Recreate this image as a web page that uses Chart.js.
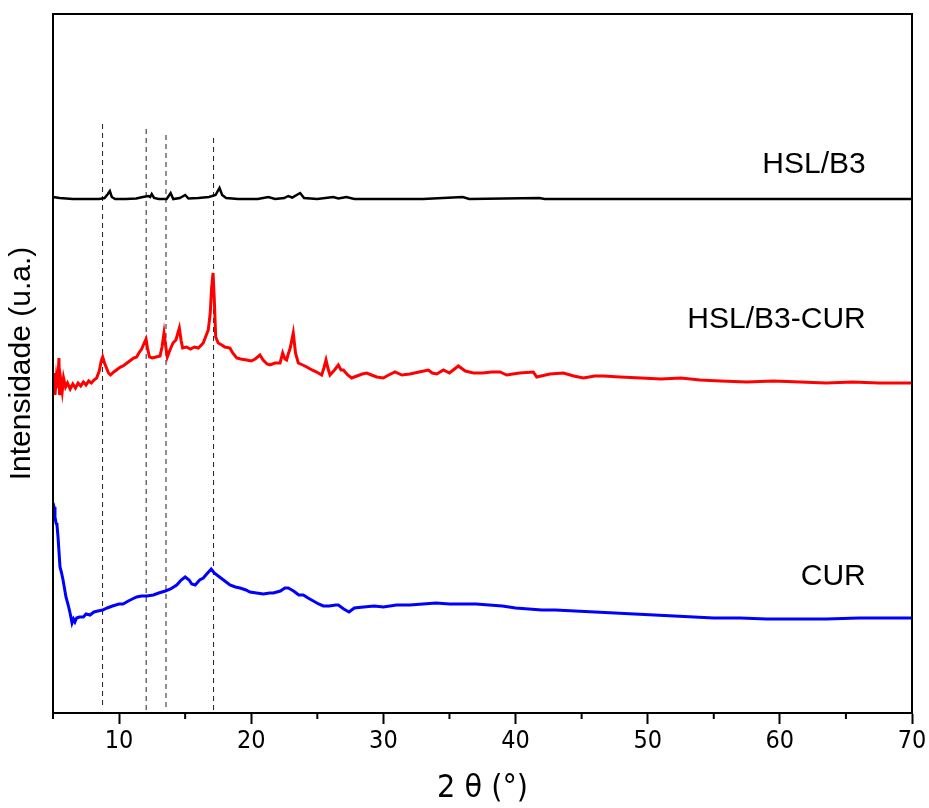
<!DOCTYPE html>
<html>
<head>
<meta charset="utf-8">
<script src="https://cdn.jsdelivr.net/npm/chart.js@4/dist/chart.umd.min.js"></script>
<style>
  body { margin: 0; background: #fff; }
  #wrap { width: 929px; height: 808px; }
</style>
</head>
<body>
<div id="wrap"><canvas id="xrdchart" width="929" height="808"></canvas></div>
<script>
// 2 theta (deg) vs intensity (a.u., curves already stacked with offsets)
const hslB3 = [
  [5.0, 516], [5.5, 515], [6.5, 514], [7.5, 514], [8.5, 514], [8.9, 515], [9.15, 519], [9.3, 522],
  [9.45, 516], [9.7, 514], [10.5, 514], [11.3, 514.5], [11.8, 516], [12.2, 517], [12.35, 516],
  [12.47, 519], [12.65, 515], [13.0, 514], [13.6, 514], [13.9, 520], [14.1, 514], [14.6, 515],
  [15.0, 518], [15.25, 514.5], [16.0, 515], [16.8, 516], [17.3, 518], [17.6, 525], [17.8, 518],
  [18.1, 515], [19.0, 514], [20.5, 514], [21.3, 516], [21.8, 514], [22.5, 515], [22.8, 517],
  [23.1, 515.5], [23.7, 520], [24.0, 515], [25.0, 514], [26.2, 516], [26.6, 514.5], [27.2, 516],
  [27.8, 514], [30.0, 514], [33.0, 514], [36.0, 516], [36.5, 514], [41.8, 515], [42.2, 514],
  [50.0, 514], [60.0, 514], [70.0, 514]
];
const hslB3Cur = [
  [5.0, 330], [5.05, 320], [5.1, 340], [5.15, 318], [5.25, 335], [5.35, 325], [5.45, 355], [5.5, 318],
  [5.6, 332], [5.7, 322], [5.8, 335], [5.95, 326], [6.1, 330], [6.3, 324], [6.5, 329], [6.7, 325],
  [6.9, 330], [7.1, 327], [7.3, 331], [7.5, 328], [7.7, 332], [7.9, 330], [8.1, 333], [8.3, 335],
  [8.5, 342], [8.65, 352], [8.76, 356], [8.9, 350], [9.05, 345], [9.2, 340], [9.35, 338], [9.6, 341],
  [9.9, 344], [10.1, 346], [10.3, 347], [10.6, 350], [10.9, 353], [11.1, 355], [11.33, 356],
  [11.5, 360], [11.71, 364], [11.9, 370], [12.04, 374], [12.15, 365], [12.3, 356], [12.5, 355],
  [12.8, 356], [13.1, 357], [13.25, 366], [13.4, 380], [13.55, 365], [13.65, 356], [13.85, 363],
  [14.08, 370], [14.3, 373], [14.45, 380], [14.56, 385], [14.7, 372], [14.81, 365], [15.1, 366],
  [15.4, 364], [15.7, 366], [16.0, 365], [16.37, 370], [16.6, 378], [16.75, 383], [16.9, 400],
  [17.0, 425], [17.11, 440], [17.2, 415], [17.31, 376], [17.5, 370], [17.77, 368], [18.0, 366],
  [18.39, 365], [18.6, 360], [18.9, 355], [19.2, 354], [19.66, 353], [20.0, 352], [20.3, 354],
  [20.66, 358], [20.9, 353], [21.2, 349], [21.42, 348], [21.8, 350], [22.18, 350], [22.38, 360],
  [22.55, 354], [22.68, 353], [22.78, 358], [22.95, 365], [23.18, 380], [23.35, 360], [23.56, 350],
  [23.9, 348], [24.2, 346], [24.6, 343], [24.95, 341], [25.33, 338], [25.5, 345], [25.66, 353],
  [25.8, 345], [25.96, 338], [26.3, 343], [26.59, 348], [26.8, 343], [26.97, 343], [27.3, 338],
  [27.6, 335], [28.0, 337], [28.4, 339], [28.74, 340], [29.1, 338], [29.5, 336], [29.99, 335],
  [30.4, 338], [30.88, 341], [31.4, 338], [32.01, 339], [32.7, 341], [33.4, 343], [33.7, 340],
  [34.04, 339], [34.54, 343], [35.0, 340], [35.67, 347], [36.2, 342], [36.81, 340], [37.5, 340],
  [38.2, 341], [38.83, 341], [39.33, 338], [40.3, 340], [41.35, 341], [41.6, 336], [42.6, 339],
  [43.62, 340], [44.4, 337], [45.13, 335], [46.0, 337], [46.64, 337], [47.91, 336], [49.5, 335],
  [51.0, 334], [52.5, 335], [53.96, 333], [55.5, 332], [57.5, 331], [59.5, 332], [61.53, 331],
  [63.5, 330], [65.5, 331], [67.5, 330], [70.0, 330]
];
const cur = [
  [5.0, 210], [5.08, 206], [5.15, 196], [5.23, 190], [5.3, 188], [5.38, 176], [5.53, 146],
  [5.65, 140], [5.76, 133], [5.98, 116], [6.15, 108], [6.29, 100], [6.44, 90], [6.55, 94],
  [6.66, 91], [6.79, 95], [7.0, 96], [7.3, 96], [7.5, 99], [7.8, 98], [8.1, 101], [8.4, 102],
  [8.76, 103], [9.1, 105], [9.5, 107], [10.0, 109], [10.3, 109], [10.7, 112], [11.0, 114],
  [11.33, 116], [11.7, 117], [12.1, 117], [12.6, 118], [13.0, 120], [13.5, 122], [13.9, 124],
  [14.36, 128], [14.7, 133], [15.0, 136], [15.3, 133], [15.5, 129], [15.76, 128], [16.1, 133],
  [16.37, 135], [16.7, 140], [16.97, 144], [17.2, 140], [17.6, 136], [18.0, 132], [18.39, 128],
  [18.8, 126], [19.15, 125], [19.6, 123], [19.9, 121], [20.4, 120], [20.91, 119], [21.4, 120],
  [21.67, 120], [22.2, 122], [22.55, 125], [22.8, 125], [23.2, 122], [23.6, 118], [23.94, 118],
  [24.3, 115], [24.7, 112], [25.1, 109], [25.45, 107], [25.9, 107], [26.4, 108], [26.59, 108],
  [27.0, 104], [27.4, 101], [27.8, 105], [28.5, 106], [29.3, 107], [30.0, 106], [31.0, 108],
  [32.0, 108], [33.0, 109], [34.0, 110], [35.0, 109], [36.0, 109], [37.0, 109], [38.0, 108],
  [39.0, 107], [40.0, 105], [41.0, 104], [42.0, 103], [43.0, 103], [44.5, 102], [46.0, 101],
  [47.5, 100], [49.0, 99], [50.5, 98], [52.0, 97], [53.5, 96], [55.0, 95], [57.0, 95], [59.0, 94],
  [61.5, 94], [63.5, 94], [66.0, 95], [68.0, 95], [70.0, 95]
];

// dashed guide lines at the main reflections
const guidePos = [8.75, 12.05, 13.55, 17.15];
const guideTop = [592, 587, 582, 579];
const guideBottom = [8, 3, 6, 3];

const seriesNames = ['HSL/B3', 'HSL/B3-CUR', 'CUR'];
const seriesColors = ['#000000', '#ff0000', '#0000ff'];
const seriesWidths = [2.5, 3, 3];
const labelX = [66.5, 66.5, 66.5];
const labelY = [548, 393, 136];

const toXY = arr => arr.map(p => ({x: p[0], y: p[1]}));

const datasets = [hslB3, hslB3Cur, cur].map((s, i) => ({
  label: seriesNames[i],
  data: toXY(s),
  borderColor: seriesColors[i],
  borderWidth: seriesWidths[i],
  pointRadius: 0,
  tension: 0,
}));

guidePos.forEach((g, i) => {
  datasets.push({
    label: 'guide' + i,
    data: [{x: g, y: guideBottom[i]}, {x: g, y: guideTop[i]}],
    borderColor: '#222',
    borderWidth: 1,
    borderDash: [5, 4],
    pointRadius: 0,
  });
});

const framePlugin = {
  id: 'frame',
  afterDraw(chart) {
    const {ctx, chartArea: a, scales} = chart;
    ctx.save();
    ctx.strokeStyle = '#000';
    ctx.lineWidth = 2;
    ctx.strokeRect(a.left, a.top, a.right - a.left, a.bottom - a.top);
    // minor ticks
    for (let v = 5; v <= 70; v += 10) {
      const px = scales.x.getPixelForValue(v);
      ctx.beginPath();
      ctx.moveTo(px, a.bottom);
      ctx.lineTo(px, a.bottom + 6);
      ctx.stroke();
    }
    // curve names
    ctx.fillStyle = '#000';
    ctx.font = '30px "Liberation Sans", Arial, sans-serif';
    ctx.textAlign = 'right';
    ctx.textBaseline = 'middle';
    seriesNames.forEach((n, i) => {
      ctx.fillText(n, scales.x.getPixelForValue(labelX[i]), scales.y.getPixelForValue(labelY[i]));
    });
    ctx.restore();
  }
};

new Chart(document.getElementById('xrdchart'), {
  type: 'line',
  plugins: [framePlugin],
  data: { datasets: datasets },
  options: {
    responsive: false,
    animation: false,
    layout: { padding: { top: 14, right: 17, left: 0, bottom: 0 } },
    plugins: {
      legend: { display: false },
      tooltip: { enabled: false },
    },
    scales: {
      x: {
        type: 'linear',
        min: 5,
        max: 70,
        afterBuildTicks: scale => {
          scale.ticks = [10, 20, 30, 40, 50, 60, 70].map(v => ({value: v}));
        },
        afterFit: scale => { scale.height = 95; },
        grid: {
          drawOnChartArea: false,
          drawTicks: true,
          tickLength: 11,
          tickColor: '#000',
          tickWidth: 2,
        },
        border: { display: true, color: '#000', width: 2 },
        ticks: {
          color: '#000',
          padding: 2,
          maxRotation: 0,
          font: { family: '"Liberation Sans Narrow", "Arial Narrow", "DejaVu Sans Condensed", sans-serif', size: 25 },
        },
        title: {
          display: true,
          text: '2 θ (°)',
          color: '#000',
          padding: 0,
          font: { family: '"Liberation Sans Narrow", "Arial Narrow", "DejaVu Sans Condensed", sans-serif', size: 32 },
        },
      },
      y: {
        min: 0,
        max: 699,
        afterFit: scale => { scale.width = 53; },
        grid: { display: false },
        border: { display: true, color: '#000', width: 2 },
        ticks: { display: false },
        title: {
          display: true,
          text: 'Intensidade (u.a.)',
          color: '#000',
          padding: { top: 4, bottom: 0 },
          font: { family: '"Liberation Sans", Arial, sans-serif', size: 30 },
        },
      },
    },
  },
});
</script>
</body>
</html>
